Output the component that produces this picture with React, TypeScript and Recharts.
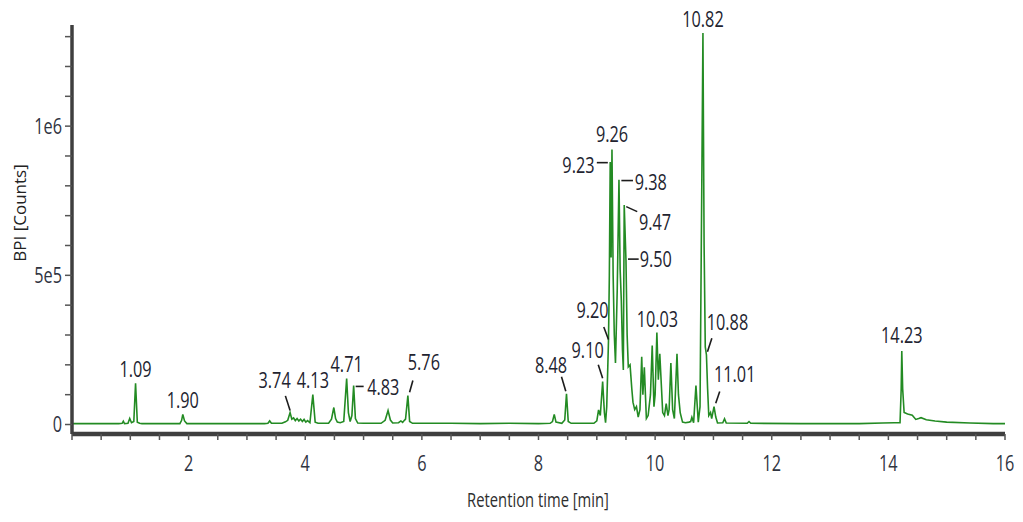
import { ComposedChart, Line, Scatter, XAxis, YAxis } from 'recharts';

// BPI trace as [retention time (min), intensity (x1000 counts)]
const traceEarly: [number, number][] = [
  [0, 3], [0.5, 3], [0.8, 3], [0.86, 4], [0.88, 11], [0.9, 3], [0.96, 4], [0.99, 20], [1.02, 6], [1.06, 10],
  [1.09, 138], [1.12, 8], [1.16, 4], [1.2, 3], [1.5, 3], [1.85, 3], [1.88, 14], [1.9, 34], [1.93, 12], [1.97, 3],
  [2.5, 3], [3.0, 3], [3.3, 3], [3.36, 4], [3.39, 12], [3.42, 4], [3.6, 4], [3.66, 9], [3.7, 14], [3.74, 40],
  [3.77, 18], [3.8, 22], [3.83, 13], [3.86, 20], [3.89, 12], [3.92, 18], [3.95, 10], [3.98, 17], [4.01, 8],
  [4.04, 13], [4.08, 6], [4.13, 100], [4.17, 8], [4.22, 4], [4.4, 4], [4.45, 18], [4.49, 57], [4.52, 20],
  [4.55, 8], [4.6, 6], [4.66, 10], [4.71, 154], [4.74, 40], [4.77, 10], [4.8, 30], [4.83, 131], [4.86, 20],
  [4.9, 5], [5.0, 4], [5.3, 4], [5.37, 14], [5.42, 47], [5.46, 15], [5.5, 5], [5.6, 6], [5.64, 12], [5.67, 7],
  [5.7, 14], [5.72, 18], [5.76, 97], [5.79, 10], [5.84, 4],
];

const traceMid: [number, number][] = [
  [6.5, 4], [7.0, 3], [7.5, 4], [8.0, 3], [8.2, 4], [8.24, 10], [8.27, 34], [8.3, 8], [8.4, 4], [8.45, 15],
  [8.48, 103], [8.51, 10], [8.56, 4], [8.95, 4], [9.0, 12], [9.03, 49], [9.06, 30], [9.1, 144], [9.13, 40], [9.15, 6],
];

const traceCluster: [number, number][] = [
  [9.17, 60], [9.2, 279], [9.215, 500], [9.23, 880], [9.245, 560], [9.26, 922], [9.28, 500], [9.3, 300],
  [9.32, 206], [9.35, 450], [9.38, 820], [9.4, 520], [9.42, 417], [9.44, 250], [9.455, 183], [9.47, 736],
  [9.5, 551], [9.52, 300], [9.54, 193], [9.57, 200], [9.6, 120], [9.62, 75], [9.65, 50], [9.68, 60], [9.71, 25],
  [9.74, 50], [9.77, 227], [9.79, 100], [9.815, 192], [9.85, 20], [9.88, 30], [9.92, 100], [9.95, 265],
  [9.98, 60], [10.0, 100], [10.03, 308], [10.055, 150], [10.08, 237], [10.13, 40], [10.16, 30], [10.19, 70],
  [10.22, 30], [10.24, 50], [10.27, 206], [10.3, 50], [10.33, 20], [10.375, 237], [10.4, 100], [10.43, 40],
  [10.47, 8], [10.52, 6], [10.58, 8], [10.61, 10], [10.63, 24], [10.66, 6], [10.7, 131], [10.74, 8], [10.77, 60],
  [10.8, 796], [10.82, 1312], [10.84, 600], [10.86, 260], [10.88, 233], [10.9, 120], [10.92, 30], [10.95, 40],
  [10.97, 20], [11.01, 60], [11.04, 25], [11.07, 5], [11.16, 6], [11.19, 19], [11.22, 5],
];

const traceLate: [number, number][] = [
  [11.58, 4], [11.61, 10], [11.64, 4], [12.5, 3], [13.5, 3], [13.9, 5], [14.1, 6], [14.2, 6], [14.22, 120],
  [14.23, 246], [14.245, 120], [14.27, 40], [14.33, 35], [14.41, 31], [14.47, 17], [14.52, 20], [14.56, 23],
  [14.65, 16], [14.8, 12], [15.0, 8], [15.4, 5], [15.8, 3], [16, 3],
];

// annotated peaks
const peakNames = ['1.09', '1.90', '3.74', '4.13', '4.71', '4.83', '5.76', '8.48', '9.10', '9.20', '9.23', '9.26', '9.38', '9.47', '9.50', '10.03', '10.82', '10.88', '11.01', '14.23'];
const peakTimes = [1.09, 1.9, 3.74, 4.13, 4.71, 4.83, 5.76, 8.48, 9.1, 9.2, 9.23, 9.26, 9.38, 9.47, 9.5, 10.03, 10.82, 10.88, 11.01, 14.23];
const peakHeights = [138, 34, 40, 100, 154, 131, 97, 103, 144, 279, 880, 922, 820, 736, 551, 308, 1312, 233, 60, 246];

const xTicks = [0, 0.5, 1, 1.5, 2, 2.5, 3, 3.5, 4, 4.5, 5, 5.5, 6, 6.5, 7, 7.5, 8, 8.5, 9, 9.5, 10, 10.5, 11, 11.5, 12, 12.5, 13, 13.5, 14, 14.5, 15, 15.5, 16];
const xLabelled = [2, 4, 6, 8, 10, 12, 14, 16];
const yTicks = [0, 100000, 200000, 300000, 400000, 500000, 600000, 700000, 800000, 900000, 1000000, 1100000, 1200000, 1300000];
const yLabelValues = [0, 500000, 1000000];
const yLabelTexts = ['0', '5e5', '1e6'];

const trace = [...traceEarly, ...traceMid, ...traceCluster, ...traceLate].map(([t, k]) => ({ t, c: k * 1000 }));
const peaks = peakNames.map((name, i) => ({ name, t: peakTimes[i], c: peakHeights[i] * 1000 }));

// where each label sits relative to its apex (px); lead = leader line x1,y1,x2,y2
const labelPos: Record<string, { dx: number; dy: number; anchor: 'start' | 'middle' | 'end'; lead?: number[] }> = {
  '1.09': { dx: 0, dy: -6, anchor: 'middle' },
  '1.90': { dx: 0, dy: -6, anchor: 'middle' },
  '3.74': { dx: -15.5, dy: -25, anchor: 'middle', lead: [-4.7, -16.7, 0, -2] },
  '4.13': { dx: 0, dy: -6.5, anchor: 'middle' },
  '4.71': { dx: 0, dy: -7, anchor: 'middle' },
  '4.83': { dx: 13.5, dy: 10, anchor: 'start', lead: [2, 1, 10, 1] },
  '5.76': { dx: 16, dy: -26, anchor: 'middle', lead: [1.7, -3.3, 5, -15] },
  '8.48': { dx: -15.5, dy: -21, anchor: 'middle', lead: [-5, -17, -0.7, -2.6] },
  '9.10': { dx: -15, dy: -23.5, anchor: 'middle', lead: [-4.4, -16.7, 0, -3.4] },
  '9.20': { dx: -16, dy: -23, anchor: 'middle', lead: [-4.7, -14.3, 0, -1.7] },
  '9.23': { dx: -15.7, dy: 11.3, anchor: 'end', lead: [-13.4, 0.7, -2.4, 0.7] },
  '9.26': { dx: 0, dy: -7.6, anchor: 'middle' },
  '9.38': { dx: 15.7, dy: 10, anchor: 'start', lead: [2.4, 0.7, 14, 0.7] },
  '9.47': { dx: 14.7, dy: 25, anchor: 'start', lead: [2, 1.7, 13, 6.7] },
  '9.50': { dx: 13.7, dy: 6.7, anchor: 'start', lead: [2, -1, 12.7, -1] },
  '10.03': { dx: 0.5, dy: -6, anchor: 'middle' },
  '10.82': { dx: 0, dy: -6.3, anchor: 'middle' },
  '10.88': { dx: 21, dy: -25, anchor: 'middle', lead: [5.4, -16.7, 1, -3.3] },
  '11.01': { dx: 20.7, dy: -25, anchor: 'middle', lead: [5.7, -15, 1.7, -3.4] },
  '14.23': { dx: 0, dy: -7.7, anchor: 'middle' },
};

const FONT = "'Open Sans', 'DejaVu Sans', sans-serif";
const SQUEEZE = 0.74; // the source text is horizontally condensed

const Narrow = ({ x, y, anchor, size = 22, fill = '#22232f', children }: any) => (
  <g transform={`translate(${x},${y}) scale(${SQUEEZE},1)`}>
    <text x={0} y={0} textAnchor={anchor} fontSize={size} fontFamily={FONT} fill={fill}>
      {children}
    </text>
  </g>
);

const XTick = ({ x, y, payload }: any) => {
  if (!xLabelled.includes(payload.value)) return <g />;
  return <Narrow x={x} y={y + 29} anchor="middle" fill="#30343f">{payload.value}</Narrow>;
};

const YTick = ({ x, y, payload }: any) => {
  const i = yLabelValues.indexOf(payload.value);
  if (i < 0) return <g />;
  return <Narrow x={x - 1} y={y + 7.5} anchor="end" fill="#30343f">{yLabelTexts[i]}</Narrow>;
};

const PeakLabel = ({ cx, cy, payload }: any) => {
  const p = labelPos[payload.name];
  if (!p || cx == null || cy == null) return <g />;
  return (
    <g>
      {p.lead && (
        <line x1={cx + p.lead[0]} y1={cy + p.lead[1]} x2={cx + p.lead[2]} y2={cy + p.lead[3]} stroke="#1c1c1c" strokeWidth={1.6} />
      )}
      <Narrow x={cx + p.dx} y={cy + p.dy} anchor={p.anchor}>{payload.name}</Narrow>
    </g>
  );
};

export default function App() {
  return (
    <div style={{ position: 'absolute', left: 0, top: 0, background: '#fff' }}>
      <ComposedChart width={1023} height={522} data={trace} margin={{ top: 25, right: 18, left: 0, bottom: 0 }}>
        <XAxis
          dataKey="t"
          type="number"
          domain={[0, 16]}
          ticks={xTicks}
          interval={0}
          height={88}
          axisLine={{ stroke: '#3f3f3f', strokeWidth: 4.5 }}
          tickLine={{ stroke: '#555', strokeWidth: 1.5 }}
          tickSize={6}
          tick={<XTick />}
          label={{
            content: () => (
              <Narrow x={538} y={507} anchor="middle" size={20} fill="#2e2e2e">Retention time [min]</Narrow>
            ),
          }}
        />
        <YAxis
          dataKey="c"
          type="number"
          domain={[-31800, 1339000]}
          ticks={yTicks}
          interval={0}
          width={72}
          axisLine={{ stroke: '#3f3f3f', strokeWidth: 3.5 }}
          tickLine={{ stroke: '#555', strokeWidth: 1.5 }}
          tickSize={7}
          tick={<YTick />}
          label={{
            content: () => (
              <text x={26} y={213} transform="rotate(-90 26 213)" textAnchor="middle" fontSize={17} fontFamily={FONT} fill="#222">
                BPI [Counts]
              </text>
            ),
          }}
        />
        <Line dataKey="c" type="linear" stroke="#238b23" strokeWidth={1.6} dot={false} isAnimationActive={false} />
        <Scatter data={peaks} dataKey="c" shape={(props: any) => <PeakLabel {...props} />} isAnimationActive={false} />
      </ComposedChart>
    </div>
  );
}
